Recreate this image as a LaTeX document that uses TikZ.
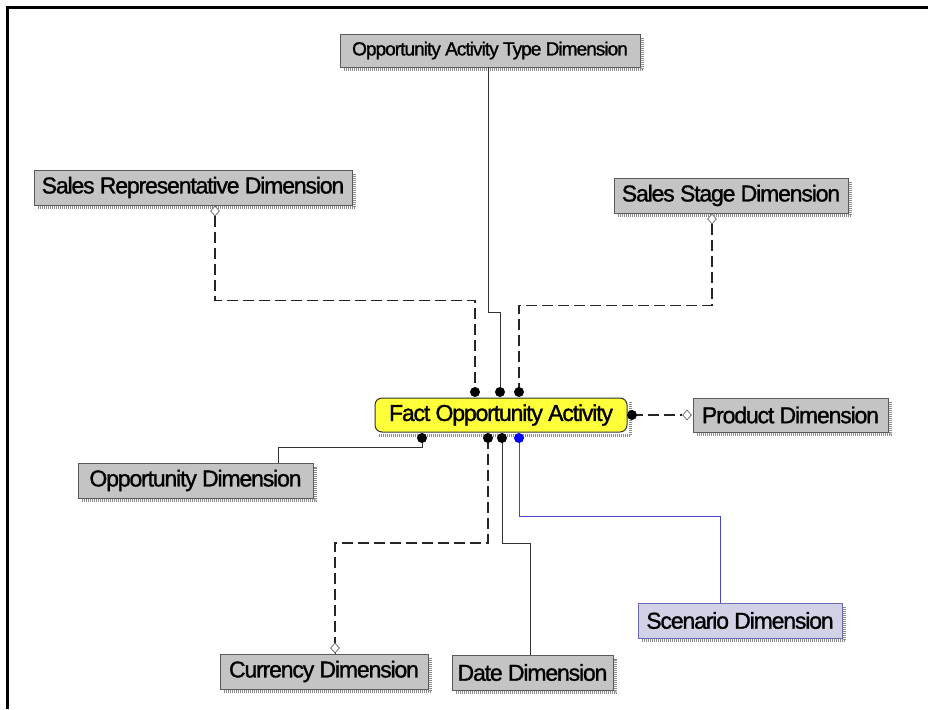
\documentclass[tikz,border=0pt]{standalone}
\usepackage{fontspec}
\setmainfont{Liberation Sans}
\newfontfamily\boxfont[LetterSpace=-5,FakeBold=1.2]{Liberation Sans}
\usetikzlibrary{shapes.geometric}
\definecolor{boxgray}{HTML}{C4C4C4}
\definecolor{boxedge}{HTML}{5A5A5A}
\definecolor{factyellow}{HTML}{FFFF3A}
\definecolor{scenfill}{HTML}{D2D2E6}
\definecolor{scenedge}{HTML}{6A6AB4}
\definecolor{linkblue}{HTML}{4646C8}
\tikzset{
  dimbox/.style={draw=boxedge, fill=boxgray, line width=0.9pt, inner sep=0pt,
    font=\boxfont\fontsize{23}{25}\selectfont},
  factbox/.style={draw=black!80, fill=factyellow, line width=1pt, rounded corners=7pt,
    inner sep=0pt, font=\boxfont\fontsize{23}{25}\selectfont},
  shadowline/.style={draw=black!45, line width=3pt, dash pattern=on 1pt off 1pt},
  thinlink/.style={draw=black!80, line width=0.8pt},
  dashlink/.style={draw=black!85, line width=1.7pt, dash pattern=on 11pt off 5pt},
  bluelink/.style={draw=linkblue, line width=0.8pt},
  enddot/.style={circle, fill=black, inner sep=0pt, minimum size=10pt},
  bluedot/.style={circle, fill=blue, inner sep=0pt, minimum size=10pt},
  opendia/.style={diamond, draw=black!60, fill=white, line width=0.7pt, inner sep=0pt,
    minimum width=9pt, minimum height=10pt},
}
\begin{document}
\begin{tikzpicture}[x=1pt,y=-1pt]
\useasboundingbox (0,0) rectangle (928,709);
\fill[white] (0,0) rectangle (928,709);
% outer frame
\draw[line width=3pt] (7,709) -- (7,8) -- (928,8);

% entity boxes
\node[dimbox, minimum width=300pt, minimum height=33pt, font=\boxfont\fontsize{19}{21}\selectfont]
  (acttype) at (490,50.5) {Opportunity Activity Type Dimension};
\node[dimbox, minimum width=318pt, minimum height=35pt] (srep) at (193,187.5) {Sales Representative Dimension};
\node[dimbox, minimum width=234pt, minimum height=35pt] (sstage) at (731,195.5) {Sales Stage Dimension};
\node[factbox, minimum width=252pt, minimum height=34pt] (fact) at (501,415) {Fact Opportunity Activity};
\node[dimbox, minimum width=195pt, minimum height=34pt] (product) at (790.5,415) {Product Dimension};
\node[dimbox, minimum width=235pt, minimum height=35pt] (oppdim) at (195.5,480.5) {Opportunity Dimension};
\node[dimbox, minimum width=208pt, minimum height=35pt] (currency) at (324,671.5) {Currency Dimension};
\node[dimbox, minimum width=161pt, minimum height=35pt] (date) at (532.5,672.5) {Date Dimension};
\node[dimbox, draw=scenedge, fill=scenfill, minimum width=204pt, minimum height=35pt] (scenario) at (740,620.5) {Scenario Dimension};

% hatched drop shadows
\foreach \b in {acttype,srep,sstage,fact,product,oppdim,currency,date,scenario}{
  \draw[shadowline] ([xshift=4pt,yshift=-2.5pt]\b.south west) -- ([xshift=2.5pt,yshift=-2.5pt]\b.south east)
    -- ([xshift=2.5pt,yshift=-4pt]\b.north east);
}

% attachment points on the fact table
\coordinate (ta) at (475,392);
\coordinate (tb) at (500,392);
\coordinate (tc) at (519,392);
\coordinate (ba) at (422,438);
\coordinate (bb) at (488,438);
\coordinate (bc) at (502,438);
\coordinate (bd) at (519,438);
\coordinate (rp) at (632,415);

% optional-end diamonds
\node[opendia] (dsrep) at (215,211) {};
\node[opendia] (dsstage) at (712,219) {};
\node[opendia] (dprod) at (687,415) {};
\node[opendia] (dcur) at (335,648) {};

% relationship lines
\draw[thinlink] ([xshift=-2pt]acttype.south) -- ++(0,245) -| (tb);
\draw[dashlink] (dsrep.south) -- ++(0,84) -| (ta);
\draw[dashlink] (dsstage.south) -- ++(0,81) -| (tc);
\draw[dashlink] (rp) -- (dprod.west);
\draw[thinlink] (ba) -- ++(0,9) -| ([xshift=82.5pt]oppdim.north);
\draw[dashlink] (bb) -- ++(0,105) -| (dcur.north);
\draw[thinlink] (dcur.south) -- (currency.north -| dcur.south);
\draw[thinlink] (bc) -- ++(0,105) -| ([xshift=-2.5pt]date.north);
\draw[bluelink] (bd) -- ++(0,78) -| ([xshift=-20pt]scenario.north);

% mandatory-end dots
\foreach \p in {ta,tb,tc,ba,bb,bc,rp}{ \node[enddot] at (\p) {}; }
\node[bluedot] at (bd) {};
\end{tikzpicture}
\end{document}
